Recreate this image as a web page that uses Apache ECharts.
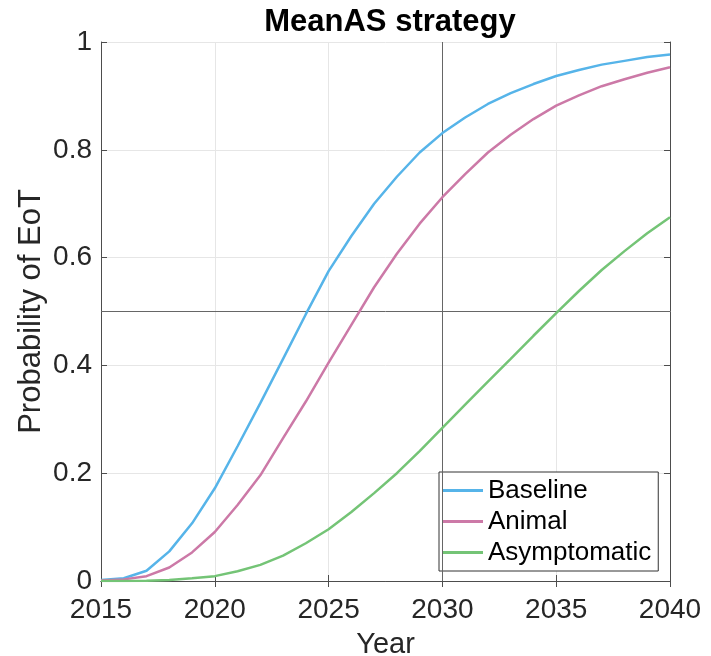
<!DOCTYPE html>
<html>
<head>
<meta charset="utf-8">
<script src="https://cdn.jsdelivr.net/npm/echarts@6/dist/echarts.min.js"></script>
<style>
  html, body { margin: 0; padding: 0; background: #fff; }
  #chart { width: 711px; height: 656px; }
</style>
</head>
<body>
<div id="chart"></div>
<script>
// Probability of elimination of transmission (EoT) per year, MeanAS strategy
const years = [2015, 2016, 2017, 2018, 2019, 2020, 2021, 2022, 2023, 2024, 2025, 2026, 2027,
               2028, 2029, 2030, 2031, 2032, 2033, 2034, 2035, 2036, 2037, 2038, 2039, 2040];
const baseline = [0.002, 0.005, 0.019, 0.055, 0.107, 0.172, 0.25, 0.33, 0.412, 0.495, 0.575, 0.64,
                  0.70, 0.75, 0.795, 0.831, 0.86, 0.885, 0.905, 0.922, 0.937, 0.948, 0.958, 0.965, 0.972, 0.977];
const animal = [0.001, 0.003, 0.009, 0.025, 0.053, 0.091, 0.141, 0.196, 0.265, 0.333, 0.405, 0.475,
                0.545, 0.607, 0.663, 0.712, 0.755, 0.795, 0.828, 0.857, 0.882, 0.901, 0.918, 0.931, 0.943, 0.953];
const asymptomatic = [0.0, 0.0, 0.0005, 0.002, 0.005, 0.009, 0.018, 0.03, 0.047, 0.07, 0.096, 0.128,
                      0.163, 0.2, 0.241, 0.284, 0.327, 0.37, 0.412, 0.455, 0.497, 0.538, 0.577, 0.612, 0.645, 0.675];
const yTicks = [0, 0.2, 0.4, 0.6, 0.8, 1];
const xTicks = [2015, 2020, 2025, 2030, 2035, 2040];

const seriesDefs = [
  { name: 'Baseline', values: baseline, color: '#56B4E9' },
  { name: 'Animal', values: animal, color: '#CC79A7' },
  { name: 'Asymptomatic', values: asymptomatic, color: '#74C476' }
];

const FONT = '"Liberation Sans", Arial, Helvetica, sans-serif';
const axisColor = '#4d4d4d';
const gridColor = '#e6e6e6';
const textColor = '#262626';

const chart = echarts.init(document.getElementById('chart'), null, { renderer: 'canvas' });

const series = seriesDefs.map(function (s, i) {
  const item = {
    name: s.name,
    type: 'line',
    data: years.map(function (y, k) { return [y, s.values[k]]; }),
    symbol: 'none',
    showSymbol: false,
    smooth: false,
    lineStyle: { color: s.color, width: 2.5 },
    itemStyle: { color: s.color },
    z: 5,
    animation: false
  };
  if (i === 0) {
    // reference lines at 2030 and p = 0.5
    item.markLine = {
      silent: true,
      symbol: 'none',
      label: { show: false },
      lineStyle: { color: '#666', width: 1, type: 'solid' },
      data: [{ xAxis: 2030 }, { yAxis: 0.5 }],
      animation: false
    };
  }
  return item;
});

const axisCommon = {
  axisLine: { show: true, lineStyle: { color: axisColor, width: 1 } },
  axisTick: { show: true, inside: true, length: 6, lineStyle: { color: axisColor } }
};

const option = {
  animation: false,
  backgroundColor: '#ffffff',
  textStyle: { fontFamily: FONT },
  title: {
    text: 'MeanAS strategy',
    left: 385,
    textAlign: 'center',
    top: 2,
    textStyle: { fontSize: 31, fontWeight: 'bold', color: '#000', fontFamily: FONT }
  },
  grid: {
    left: 101, top: 42, width: 569, height: 539, show: false,
    containLabel: false, outerBoundsMode: 'none'
  },
  legend: {
    orient: 'vertical',
    left: 439,
    top: 472,
    width: 222,
    padding: [3, 7, 3, 4],
    itemGap: 0,
    itemWidth: 40,
    itemHeight: 3,
    icon: 'rect',
    backgroundColor: '#fff',
    borderColor: '#333',
    borderWidth: 1,
    borderRadius: 0,
    selectedMode: false,
    textStyle: { fontSize: 26, color: '#000', fontFamily: FONT, lineHeight: 31, padding: [0, 0, 0, 0] },
    data: seriesDefs.map(function (s) { return s.name; })
  },
  xAxis: [Object.assign({
    type: 'value',
    min: 2015,
    max: 2040,
    interval: 5,
    name: 'Year',
    nameLocation: 'middle',
    nameGap: 49,
    nameMoveOverlap: false,
    nameTextStyle: { fontSize: 29, color: textColor, fontFamily: FONT },
    axisLabel: {
      fontSize: 28, color: textColor, margin: 15, fontFamily: FONT,
      formatter: function (v) { return xTicks.indexOf(v) >= 0 ? String(v) : ''; }
    },
    splitLine: { show: true, lineStyle: { color: gridColor, width: 1 } }
  }, axisCommon), Object.assign({
    type: 'value',
    position: 'top',
    min: 2015,
    max: 2040,
    interval: 5,
    axisLabel: { show: false },
    splitLine: { show: false }
  }, axisCommon)],
  yAxis: [Object.assign({
    type: 'value',
    min: 0,
    max: 1,
    interval: 0.2,
    name: 'Probability of EoT',
    nameLocation: 'middle',
    nameGap: 54,
    nameMoveOverlap: false,
    nameTextStyle: { fontSize: 31, color: textColor, fontFamily: FONT },
    axisLabel: {
      fontSize: 28, color: textColor, margin: 9, fontFamily: FONT,
      formatter: function (v) {
        const t = yTicks.find(function (y) { return Math.abs(y - v) < 1e-9; });
        return t === undefined ? '' : String(t);
      }
    },
    splitLine: { show: true, lineStyle: { color: gridColor, width: 1 } }
  }, axisCommon), Object.assign({
    type: 'value',
    position: 'right',
    min: 0,
    max: 1,
    interval: 0.2,
    axisLabel: { show: false },
    splitLine: { show: false }
  }, axisCommon)],
  series: series
};

chart.setOption(option);
</script>
</body>
</html>
